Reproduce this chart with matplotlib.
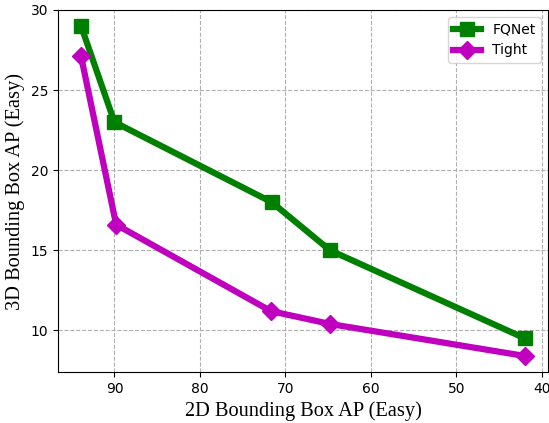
import matplotlib
matplotlib.use("Agg")
import matplotlib.pyplot as plt

fq_x = [93.9, 90.0, 71.6, 64.8, 42.0]
fq_y = [29.0, 23.0, 18.0, 15.0, 9.5]
tight_x = [93.9, 89.8, 71.7, 64.8, 42.0]
tight_y = [27.1, 16.6, 11.2, 10.4, 8.4]
x_ticks = [90, 80, 70, 60, 50, 40]
y_ticks = [10, 15, 20, 25, 30]

fig = plt.figure(figsize=(5.49, 4.23), dpi=100)
ax = fig.add_axes([58/549, 1-372/423, (548-58)/549, (372-10)/423])
ax.plot(fq_x, fq_y, color='green', lw=4.5, marker='s', ms=10.5, label='FQNet')
ax.plot(tight_x, tight_y, color='#bf00bf', lw=4.5, marker='D', ms=9.5, label='Tight')
ax.set_xlim(96.6, 39.3)
ax.set_ylim(7.4, 30)
ax.set_xticks(x_ticks)
ax.set_yticks(y_ticks)
ax.tick_params(labelsize=10)
ax.grid(True, ls='--', color='#b0b0b0', lw=0.8)
ax.set_xlabel('2D Bounding Box AP (Easy)', family='Liberation Serif', fontsize=14.7)
ax.set_ylabel('3D Bounding Box AP (Easy)', family='Liberation Serif', fontsize=14.7)
ax.legend(loc='upper right', fontsize=10, markerscale=1.0)
fig.savefig('out.png', dpi=100)
